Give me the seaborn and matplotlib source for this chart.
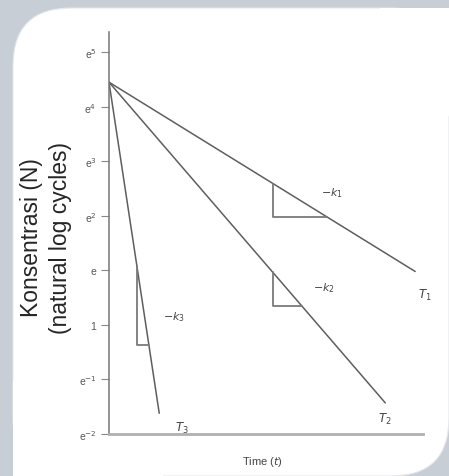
import numpy as np
import pandas as pd
import seaborn as sns
import matplotlib.pyplot as plt
from matplotlib.patches import FancyBboxPatch, Rectangle

# lines in ln(N) vs time, all starting from the same initial concentration
curves = ["T1", "T2", "T3"]
t_start = [0.0, 0.0, 0.0]
t_end = [9.75, 8.8, 1.6]
lnN_start = [4.45, 4.45, 4.45]
lnN_end = [0.98, -1.43, -1.62]

# slope triangles: x of vertical leg, and the ln(N) level of the horizontal leg
tri_x = [5.22, 5.22, 0.89]
tri_base = [1.98, 0.34, -0.37]
slope_labels = [r"$-k_1$", r"$-k_2$", r"$-k_3$"]
end_labels = [r"$T_1$", r"$T_2$", r"$T_3$"]

ytick_vals = [5, 4, 3, 2, 1, 0, -1, -2]
ytick_labels = ["e$^{5}$", "e$^{4}$", "e$^{3}$", "e$^{2}$", "e", "1", "e$^{-1}$", "e$^{-2}$"]

sns.set_style("white")
plt.rcParams['font.family'] = ['Liberation Sans', 'DejaVu Sans']
plt.rcParams['mathtext.fontset'] = 'dejavusans'

W, H = 449, 477
fig = plt.figure(figsize=(W / 100, H / 100), dpi=100, facecolor="#c8ced6")

# white rounded card behind the chart
card = FancyBboxPatch((0.13, 0.0), 4.36, 4.68, boxstyle="round,pad=0,rounding_size=0.58",
                      transform=fig.dpi_scale_trans, fc="white", ec="#e4e6ea", lw=0.8, zorder=-3)
fig.add_artist(card)
fig.add_artist(Rectangle((0.13, -0.05), 1.5, 1.0, transform=fig.dpi_scale_trans,
                         fc="white", ec="none", zorder=-2))
fig.add_artist(Rectangle((3.8, 3.6), 0.69, 1.08, transform=fig.dpi_scale_trans,
                         fc="white", ec="none", zorder=-2))

ax = fig.add_axes([109 / W, (H - 435) / H, (423 - 109) / W, (435 - 33) / H])
ax.patch.set_alpha(0)

rows = []
for name, x0, x1, y0, y1 in zip(curves, t_start, t_end, lnN_start, lnN_end):
    rows.append({"curve": name, "t": x0, "lnN": y0})
    rows.append({"curve": name, "t": x1, "lnN": y1})
df = pd.DataFrame(rows)

sns.lineplot(data=df, x="t", y="lnN", units="curve", estimator=None,
             color="#5e5e5e", lw=1.1, ax=ax, legend=False)

for i, name in enumerate(curves):
    xs = [t_start[i], t_end[i]]
    ys = [lnN_start[i], lnN_end[i]]
    slope = (ys[1] - ys[0]) / (xs[1] - xs[0])
    y_top = ys[0] + slope * tri_x[i]
    x_right = tri_x[i] + (tri_base[i] - y_top) / slope
    ax.plot([tri_x[i], tri_x[i], x_right], [y_top, tri_base[i], tri_base[i]],
            color="#7a7a7a", lw=1.3)
    ax.annotate(slope_labels[i], (x_right, tri_base[i]), xytext=[(-4, 13), (8, 9), (10, 16)][i],
                textcoords="offset points", fontsize=8, color="#444444", ha="left", va="bottom")
    ax.annotate(end_labels[i], (t_end[i], lnN_end[i]), xytext=[(2, -11), (-5, -6), (11, -5)][i],
                textcoords="offset points", fontsize=8.5, color="#444444", ha="left", va="top")

ax.set_xlim(0, 10)
ax.set_ylim(-2, 5.37)
ax.set_xticks([])
ax.set_yticks(ytick_vals)
ax.set_yticklabels(ytick_labels)
ax.tick_params(axis="y", length=6, width=0.8, color="#888888", labelsize=7.5,
               labelcolor="#555555", pad=3, left=True)
sns.despine(ax=ax)
ax.spines["left"].set_color("#777777")
ax.spines["left"].set_linewidth(1.1)
ax.spines["bottom"].set_color("#b0b0b0")
ax.spines["bottom"].set_linewidth(2.0)
ax.set_xlabel("")
ax.set_ylabel("")

fig.text(46 / W, 1 - 238 / H, "Konsentrasi (N)\n(natural log cycles)", rotation=90,
         ha="center", va="center", multialignment="center", fontsize=16.5, linespacing=1.3)
fig.text(262 / W, 1 - 462 / H, r"Time ($t$)", ha="center", va="center",
         fontsize=8, color="#444444")

fig.savefig("out.png", dpi=100, facecolor=fig.get_facecolor())
